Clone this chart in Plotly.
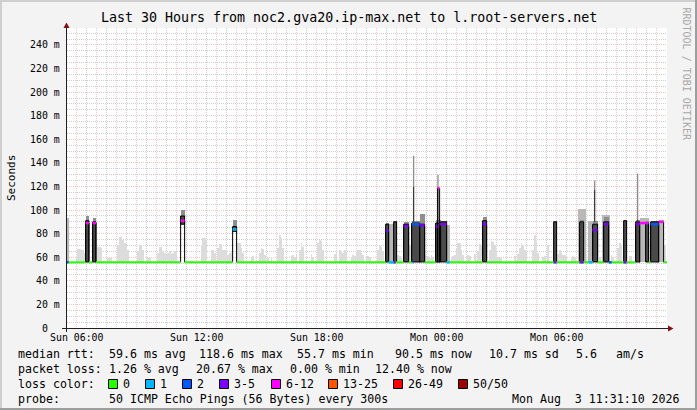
import plotly.graph_objects as go
from datetime import datetime, timedelta

DAYS = {"Sun": "2026-08-02", "Mon": "2026-08-03"}


def T(s):
    day, hm = s.split()
    if hm.count(":") == 1:
        hm += ":00"
    return datetime.fromisoformat(f"{DAYS[day]} {hm}")


# ---------------- data ----------------
floor_ms = 55.7  # minimum median rtt (ms) - the flat median line

loss_labels = ["0", "1", "2", "3-5", "6-12", "13-25", "26-49", "50/50"]
loss_colors = ["#26ff00", "#00b8ff", "#0059ff", "#7e00ff", "#ff00ff", "#ff5500", "#ff0000", "#a10000"]

# light smoke: upper edge of the ping spread per 5-minute sample
smoke_time = [
    "Sun 06:00", "Sun 06:05", "Sun 06:10", "Sun 06:15", "Sun 06:20", "Sun 06:25",
    "Sun 07:05", "Sun 07:10", "Sun 07:15", "Sun 07:35", "Sun 07:40", "Sun 07:45",
    "Sun 08:05", "Sun 08:10", "Sun 08:15", "Sun 08:20", "Sun 08:25", "Sun 08:30", "Sun 08:35",
    "Sun 09:05", "Sun 09:10", "Sun 09:15", "Sun 09:20", "Sun 09:35", "Sun 09:40",
    "Sun 10:05", "Sun 10:10", "Sun 10:15", "Sun 10:20", "Sun 10:25", "Sun 10:30", "Sun 10:35", "Sun 10:40",
    "Sun 10:45", "Sun 10:50", "Sun 10:55", "Sun 11:00",
    "Sun 12:15", "Sun 12:20", "Sun 12:25", "Sun 12:30", "Sun 12:45", "Sun 12:50", "Sun 12:55",
    "Sun 13:05", "Sun 13:10", "Sun 13:15", "Sun 13:20", "Sun 13:25", "Sun 13:30", "Sun 13:35", "Sun 13:40", "Sun 13:45",
    "Sun 14:05", "Sun 14:10", "Sun 14:15", "Sun 14:20", "Sun 14:45", "Sun 14:50",
    "Sun 15:10", "Sun 15:15", "Sun 15:20", "Sun 15:25", "Sun 15:35", "Sun 15:45",
    "Sun 16:05", "Sun 16:10", "Sun 16:15", "Sun 16:20", "Sun 16:45", "Sun 16:50", "Sun 16:55", "Sun 17:00",
    "Sun 17:10", "Sun 17:15", "Sun 17:20", "Sun 17:45", "Sun 17:50",
    "Sun 18:05", "Sun 18:10", "Sun 18:15", "Sun 18:20", "Sun 18:55", "Sun 19:00",
    "Sun 19:10", "Sun 19:15", "Sun 19:20", "Sun 19:25", "Sun 19:30",
    "Sun 19:45", "Sun 19:50", "Sun 19:55", "Sun 20:00", "Sun 20:05", "Sun 20:10", "Sun 20:15", "Sun 20:20",
    "Sun 20:30", "Sun 20:35", "Sun 20:40",
    "Sun 21:05", "Sun 21:10", "Sun 21:15", "Sun 21:20",
    "Sun 22:05", "Sun 22:10", "Sun 22:15", "Sun 22:35", "Sun 22:40",
    "Sun 23:25", "Sun 23:30", "Sun 23:35", "Sun 23:40", "Sun 23:45", "Sun 23:50",
    "Mon 00:45", "Mon 00:50", "Mon 00:55", "Mon 01:00", "Mon 01:05", "Mon 01:10", "Mon 01:15", "Mon 01:20",
    "Mon 01:35", "Mon 01:40", "Mon 01:55", "Mon 02:05", "Mon 02:10", "Mon 02:15",
    "Mon 02:40", "Mon 02:45", "Mon 02:50", "Mon 02:55", "Mon 03:00", "Mon 03:05", "Mon 03:10", "Mon 03:15",
    "Mon 03:55", "Mon 04:05", "Mon 04:10", "Mon 04:15", "Mon 04:20", "Mon 04:25", "Mon 04:30",
    "Mon 04:50", "Mon 04:55", "Mon 05:00", "Mon 05:05", "Mon 05:20", "Mon 05:25", "Mon 05:35",
    "Mon 06:05", "Mon 06:10", "Mon 06:15", "Mon 06:20", "Mon 06:25", "Mon 06:30",
    "Mon 06:45", "Mon 06:50", "Mon 06:55", "Mon 07:30", "Mon 08:10",
    "Mon 08:45", "Mon 08:50", "Mon 09:05", "Mon 09:10", "Mon 09:15", "Mon 09:40", "Mon 09:45", "Mon 11:25",
]
smoke_top = [
    61, 67, 67, 66, 66, 64,
    69, 69, 68, 59, 59, 59,
    70, 77, 77, 75, 72, 70, 66,
    65, 70, 70, 66, 59, 59,
    64, 69, 69, 65, 64, 63, 64, 65, 63, 64, 65, 66,
    70, 76, 76, 72, 66, 66, 64,
    68, 71, 71, 66, 66, 65, 62, 64, 65,
    72, 72, 68, 64, 60, 61,
    64, 68, 67, 62, 59, 60,
    68, 79, 76, 68, 61, 62, 60, 62,
    66, 72, 69, 63, 60,
    72, 75, 74, 66, 63, 64,
    66, 65, 64, 66, 64,
    60, 62, 61, 64, 66, 66, 64, 62,
    60, 61, 60,
    66, 70, 69, 65,
    62, 61, 60, 72, 70,
    62, 60, 61, 59, 62, 60,
    60, 61, 62, 68, 72, 72, 66, 62,
    62, 61, 63, 65, 71, 70,
    66, 74, 73, 70, 66, 60, 59, 59,
    61, 63, 68, 72, 70, 66, 64,
    66, 79, 72, 64, 60, 61, 70,
    63, 66, 64, 62, 62, 61,
    60, 61, 60, 62, 60,
    62, 60, 68, 72, 70, 61, 61, 70,
]

# medium-density smoke blocks
mid_start = ["Sun 05:31", "Sun 21:36", "Mon 00:30", "Mon 07:03", "Mon 07:33", "Mon 08:15", "Mon 10:09", "Mon 11:06"]
mid_end = ["Sun 05:36", "Sun 21:51", "Mon 00:39", "Mon 07:27", "Mon 07:48", "Mon 08:39", "Mon 10:36", "Mon 11:21"]
mid_top = [93, 88, 87, 101, 91, 96, 93, 92]

# dense smoke blocks (pings clustered around ~90 ms)
ep_start = ["Sun 06:27", "Sun 06:48", "Sun 11:12", "Sun 13:48", "Sun 21:27", "Sun 21:51", "Sun 22:21",
            "Sun 22:45", "Sun 23:09", "Sun 23:57", "Mon 00:12", "Mon 02:18", "Mon 05:51", "Mon 07:09",
            "Mon 07:48", "Mon 08:21", "Mon 09:21", "Mon 09:57", "Mon 10:27", "Mon 10:42"]
ep_end = ["Sun 06:37", "Sun 06:58", "Sun 11:24", "Sun 14:00", "Sun 21:36", "Sun 22:00", "Sun 22:36",
          "Sun 23:09", "Sun 23:24", "Mon 00:12", "Mon 00:30", "Mon 02:30", "Mon 06:00", "Mon 07:21",
          "Mon 08:03", "Mon 08:36", "Mon 09:30", "Mon 10:09", "Mon 10:36", "Mon 11:06"]
ep_low = [56, 56, 88, 82, 56, 56, 56, 56, 56, 56, 56, 56, 56, 56, 56, 56, 56, 56, 56, 56]
ep_high = [91, 90, 95, 86, 88, 90, 88, 89, 88, 89, 90, 91, 90, 90, 88, 90, 91, 90, 89, 90]
ep_top = [95, 93, 100, 92, 89, 91, 90, 91, 97, 92, 91, 94, 91, 92, 91, 94, 92, 92, 91, 91]

# single outlier pings (thin vertical lines)
spk_time = ["Sun 22:51", "Mon 00:04", "Mon 07:54", "Mon 10:03"]
spk_dark = [120, 119, 117, 92]
spk_max = [146, 130, 125, 131]

# median excursions away from the floor, with their loss bucket
med_start = ["Sun 06:27", "Sun 06:48", "Sun 11:12", "Sun 13:48", "Sun 21:27", "Sun 22:21", "Sun 22:45",
             "Sun 23:09", "Sun 23:57", "Mon 00:03", "Mon 00:09", "Mon 02:18", "Mon 07:48", "Mon 08:21",
             "Mon 09:57", "Mon 10:09", "Mon 10:42", "Mon 11:06"]
med_end = ["Sun 06:37", "Sun 06:58", "Sun 11:24", "Sun 14:00", "Sun 21:36", "Sun 22:36", "Sun 23:09",
           "Sun 23:24", "Mon 00:03", "Mon 00:09", "Mon 00:30", "Mon 02:30", "Mon 08:03", "Mon 08:36",
           "Mon 10:09", "Mon 10:36", "Mon 11:06", "Mon 11:21"]
med_value = [89, 89, 91, 83.6, 82.5, 86.5, 88, 87, 86, 118.6, 88, 88, 83, 88, 88, 89, 88, 90]
med_loss = [4, 4, 4, 1, 3, 3, 2, 3, 3, 4, 3, 3, 3, 3, 3, 4, 2, 4]

# loss coloured stretches of the flat median line
bl_start = ["Sun 05:31", "Sun 21:36", "Sun 21:51", "Sun 22:48", "Mon 00:30", "Mon 05:51", "Mon 07:09",
            "Mon 07:36", "Mon 08:36", "Mon 09:21"]
bl_end = ["Sun 05:36", "Sun 21:51", "Sun 21:57", "Sun 22:51", "Mon 00:39", "Mon 06:00", "Mon 07:21",
          "Mon 07:48", "Mon 08:45", "Mon 09:30"]
bl_loss = [2, 1, 3, 2, 1, 3, 3, 1, 2, 3]

y_ticks = [0, 20, 40, 60, 80, 100, 120, 140, 160, 180, 200, 220, 240]
x_label_time = ["Sun 06:00", "Sun 12:00", "Sun 18:00", "Mon 00:00", "Mon 06:00"]

title = "Last 30 Hours from noc2.gva20.ip-max.net to l.root-servers.net"
row1 = [("median rtt:", 16), ("59.6 ms avg", 107), ("118.6 ms max", 197), ("55.7 ms min", 295),
        ("90.5 ms now", 393), ("10.7 ms sd", 487), ("5.6", 574), ("am/s", 614)]
row2 = [("packet loss:", 16), ("1.26 % avg", 107), ("20.67 % max", 194), ("0.00 % min", 288),
        ("12.40 % now", 373)]
probe_text = "50 ICMP Echo Pings (56 Bytes) every 300s"
stamp_text = "Mon Aug\u00a0\u00a03 11:31:10 2026"

# ---------------- layout helpers ----------------
W, H = 697, 410
ML, MR, MT, MB = 67, 30, 28, 82
PW, PH = W - ML - MR, H - MT - MB
Y_MAX = 254.4
FONT = "DejaVu Sans Mono"


def px(x):
    return (x - ML) / PW


def py(y):
    return (H - MB - y) / PH


def mid(a, b):
    return T(a) + (T(b) - T(a)) / 2


def dur_ms(a, b):
    return (T(b) - T(a)).total_seconds() * 1000


fig = go.Figure()

# light smoke
fig.add_trace(go.Bar(
    x=[T(t) for t in smoke_time], y=[v - floor_ms for v in smoke_top], base=floor_ms,
    width=300000, marker=dict(color="#dcdcdc", line=dict(width=0)), hoverinfo="skip"))

# medium smoke
fig.add_trace(go.Bar(
    x=[mid(a, b) for a, b in zip(mid_start, mid_end)],
    y=[v - floor_ms for v in mid_top], base=floor_ms,
    width=[dur_ms(a, b) for a, b in zip(mid_start, mid_end)],
    marker=dict(color="#b8b8b8", line=dict(width=0)), hoverinfo="skip"))

# dense blocks: upper grey part then dark body
fig.add_trace(go.Bar(
    x=[mid(a, b) for a, b in zip(ep_start, ep_end)],
    y=[t - l for t, l in zip(ep_top, ep_low)], base=ep_low,
    width=[dur_ms(a, b) for a, b in zip(ep_start, ep_end)],
    marker=dict(color="#8f8f8f", line=dict(width=0)), hoverinfo="skip"))
fig.add_trace(go.Bar(
    x=[mid(a, b) for a, b in zip(ep_start, ep_end)],
    y=[h - l for h, l in zip(ep_high, ep_low)], base=ep_low,
    width=[dur_ms(a, b) for a, b in zip(ep_start, ep_end)],
    marker=dict(color="#4a4a4a", line=dict(width=1, color="#000000")), hoverinfo="skip"))

# outlier pings
sx, sy_d, sy_l = [], [], []
for t, d, m in zip(spk_time, spk_dark, spk_max):
    sx += [T(t), T(t), None]
    sy_l += [d, m, None]
    sy_d += [90, d, None]
fig.add_trace(go.Scatter(x=sx, y=sy_l, mode="lines", line=dict(color="#8c8c8c", width=1.3), hoverinfo="skip"))
fig.add_trace(go.Scatter(x=sx, y=sy_d, mode="lines", line=dict(color="#3a3a3a", width=1.3), hoverinfo="skip"))

# black step edges of the median excursions
ox, oy = [], []
for a, b, v in zip(med_start, med_end, med_value):
    ox += [T(a), T(a), None, T(b), T(b), None]
    oy += [floor_ms, v, None, floor_ms, v, None]
fig.add_trace(go.Scatter(x=ox, y=oy, mode="lines", line=dict(color="#000000", width=1), hoverinfo="skip"))

# flat green median line with gaps at excursions
x_start, x_end = T("Sun 05:31:10"), T("Mon 11:31:10")
gx, gy = [x_start], [floor_ms]
for a, b in sorted(zip(med_start, med_end), key=lambda p: T(p[0])):
    gx += [T(a), None, T(b)]
    gy += [floor_ms, None, floor_ms]
gx.append(x_end)
gy.append(floor_ms)
fig.add_trace(go.Scatter(x=gx, y=gy, mode="lines", line=dict(color=loss_colors[0], width=2), hoverinfo="skip"))

# loss coloured parts of the flat line
for k in sorted(set(bl_loss)):
    xx, yy = [], []
    for a, b, l in zip(bl_start, bl_end, bl_loss):
        if l == k:
            xx += [T(a), T(b), None]
            yy += [floor_ms, floor_ms, None]
    fig.add_trace(go.Scatter(x=xx, y=yy, mode="lines", line=dict(color=loss_colors[k], width=2.5),
                             hoverinfo="skip"))

# coloured median tops
for k in sorted(set(med_loss)):
    xx, yy = [], []
    for a, b, v, l in zip(med_start, med_end, med_value, med_loss):
        if l == k:
            xx += [T(a), T(b), None]
            yy += [v, v, None]
    fig.add_trace(go.Scatter(x=xx, y=yy, mode="lines", line=dict(color=loss_colors[k], width=2.5),
                             hoverinfo="skip"))

# ---------------- axes ----------------
GRID_MAJOR = "rgba(230,120,120,0.42)"
GRID_MINOR = "rgba(160,160,160,0.5)"
fig.update_xaxes(
    type="date", range=[x_start, x_end], showticklabels=False, ticks="",
    tick0=T("Sun 06:00"), dtick=3600000,
    showgrid=True, gridcolor=GRID_MAJOR, griddash="1px,1px", gridwidth=1,
    minor=dict(tick0=T("Sun 05:30"), dtick=1800000, showgrid=True, gridcolor=GRID_MINOR,
               griddash="1px,1px", gridwidth=1),
    zeroline=False, showline=False, fixedrange=True)
fig.update_yaxes(
    range=[0, Y_MAX], showticklabels=False, ticks="", tick0=0, dtick=20,
    showgrid=True, gridcolor=GRID_MAJOR, griddash="1px,1px", gridwidth=1,
    minor=dict(tick0=0, dtick=5, showgrid=True, gridcolor=GRID_MINOR, griddash="1px,1px", gridwidth=1),
    zeroline=False, showline=False, fixedrange=True)

ann = []
shapes = []

ann.append(dict(text=title, xref="paper", yref="paper", x=px(348.5), y=py(18), xanchor="center",
                yanchor="middle", showarrow=False, font=dict(family=FONT, size=13.3, color="#000")))
ann.append(dict(text="Seconds", xref="paper", yref="paper", x=px(11), y=py(178), textangle=-90,
                xanchor="center", yanchor="middle", showarrow=False,
                font=dict(family=FONT, size=11, color="#000")))
ann.append(dict(text="RRDTOOL / TOBI OETIKER", xref="paper", yref="paper", x=px(686), y=py(5),
                textangle=90, xanchor="center", yanchor="top", showarrow=False,
                font=dict(family=FONT, size=10, color="#a8a8a8")))

for v in y_ticks:
    ann.append(dict(text=(f"{v} m" if v else "0"), xref="paper", yref="y",
                    x=px(61.5 if v else 49.5), y=v, xanchor="right", yanchor="middle", showarrow=False,
                    font=dict(family=FONT, size=9.9, color="#000")))
for t in x_label_time:
    ann.append(dict(text=t, xref="x", yref="paper", x=T(t), y=py(337), xanchor="center",
                    yanchor="middle", showarrow=False, font=dict(family=FONT, size=9.9, color="#000")))

ROWS = [354, 369, 384, 399]
LF = dict(family=FONT, size=11.6, color="#000")
for txt, x in row1:
    ann.append(dict(text=txt, xref="paper", yref="paper", x=px(x), y=py(ROWS[0]), xanchor="left",
                    yanchor="middle", showarrow=False, font=LF))
for txt, x in row2:
    ann.append(dict(text=txt, xref="paper", yref="paper", x=px(x), y=py(ROWS[1]), xanchor="left",
                    yanchor="middle", showarrow=False, font=LF))
ann.append(dict(text="loss color:", xref="paper", yref="paper", x=px(16), y=py(ROWS[2]), xanchor="left",
                yanchor="middle", showarrow=False, font=LF))
sq_x = [108, 145, 182, 219, 271, 328, 393, 458]
for lab, col, x in zip(loss_labels, loss_colors, sq_x):
    shapes.append(dict(type="rect", xref="paper", yref="paper", x0=px(x + 0.5), x1=px(x + 9.5),
                       y0=py(ROWS[2] + 4.5), y1=py(ROWS[2] - 4.5), fillcolor=col,
                       line=dict(color="#000", width=1)))
    ann.append(dict(text=lab, xref="paper", yref="paper", x=px(x + 13), y=py(ROWS[2]), xanchor="left",
                    yanchor="middle", showarrow=False, font=LF))
ann.append(dict(text="probe:", xref="paper", yref="paper", x=px(16), y=py(ROWS[3]), xanchor="left",
                yanchor="middle", showarrow=False, font=LF))
ann.append(dict(text=probe_text, xref="paper", yref="paper", x=px(107), y=py(ROWS[3]), xanchor="left",
                yanchor="middle", showarrow=False, font=LF))
ann.append(dict(text=stamp_text, xref="paper", yref="paper", x=px(682), y=py(ROWS[3]), xanchor="right",
                yanchor="middle", showarrow=False, font=LF))

# frame (3D shade)
shapes += [
    dict(type="line", xref="paper", yref="paper", x0=px(0), x1=px(W), y0=py(1), y1=py(1),
         line=dict(color="#cfcfcf", width=2)),
    dict(type="line", xref="paper", yref="paper", x0=px(1), x1=px(1), y0=py(0), y1=py(H),
         line=dict(color="#cfcfcf", width=2)),
    dict(type="line", xref="paper", yref="paper", x0=px(W - 1), x1=px(W - 1), y0=py(0), y1=py(H),
         line=dict(color="#9e9e9e", width=2)),
    dict(type="line", xref="paper", yref="paper", x0=px(0), x1=px(W), y0=py(H - 1), y1=py(H - 1),
         line=dict(color="#9e9e9e", width=2)),
]
# axes with arrows
shapes += [
    dict(type="line", xref="paper", yref="paper", x0=px(62), x1=px(669), y0=py(328.5), y1=py(328.5),
         line=dict(color="#202020", width=1)),
    dict(type="line", xref="paper", yref="paper", x0=px(66.5), x1=px(66.5), y0=py(332), y1=py(27),
         line=dict(color="#202020", width=1)),
    dict(type="path", xref="paper", yref="paper",
         path=f"M {px(668)} {py(325.5)} L {px(673.5)} {py(328.5)} L {px(668)} {py(331.5)} Z",
         fillcolor="#7f1010", line=dict(width=0)),
    dict(type="path", xref="paper", yref="paper",
         path=f"M {px(63.5)} {py(28)} L {px(66.5)} {py(22.5)} L {px(69.5)} {py(28)} Z",
         fillcolor="#7f1010", line=dict(width=0)),
]

fig.update_layout(
    width=W, height=H, margin=dict(l=ML, r=MR, t=MT, b=MB, pad=0),
    paper_bgcolor="#f3f3f3", plot_bgcolor="#ffffff", showlegend=False,
    barmode="overlay", bargap=0, font=dict(family=FONT, color="#000"),
    annotations=ann, shapes=shapes, hovermode=False)

fig.write_html("out.html", config={"displayModeBar": False, "staticPlot": True},
               post_script="document.body.style.margin='0px';")
